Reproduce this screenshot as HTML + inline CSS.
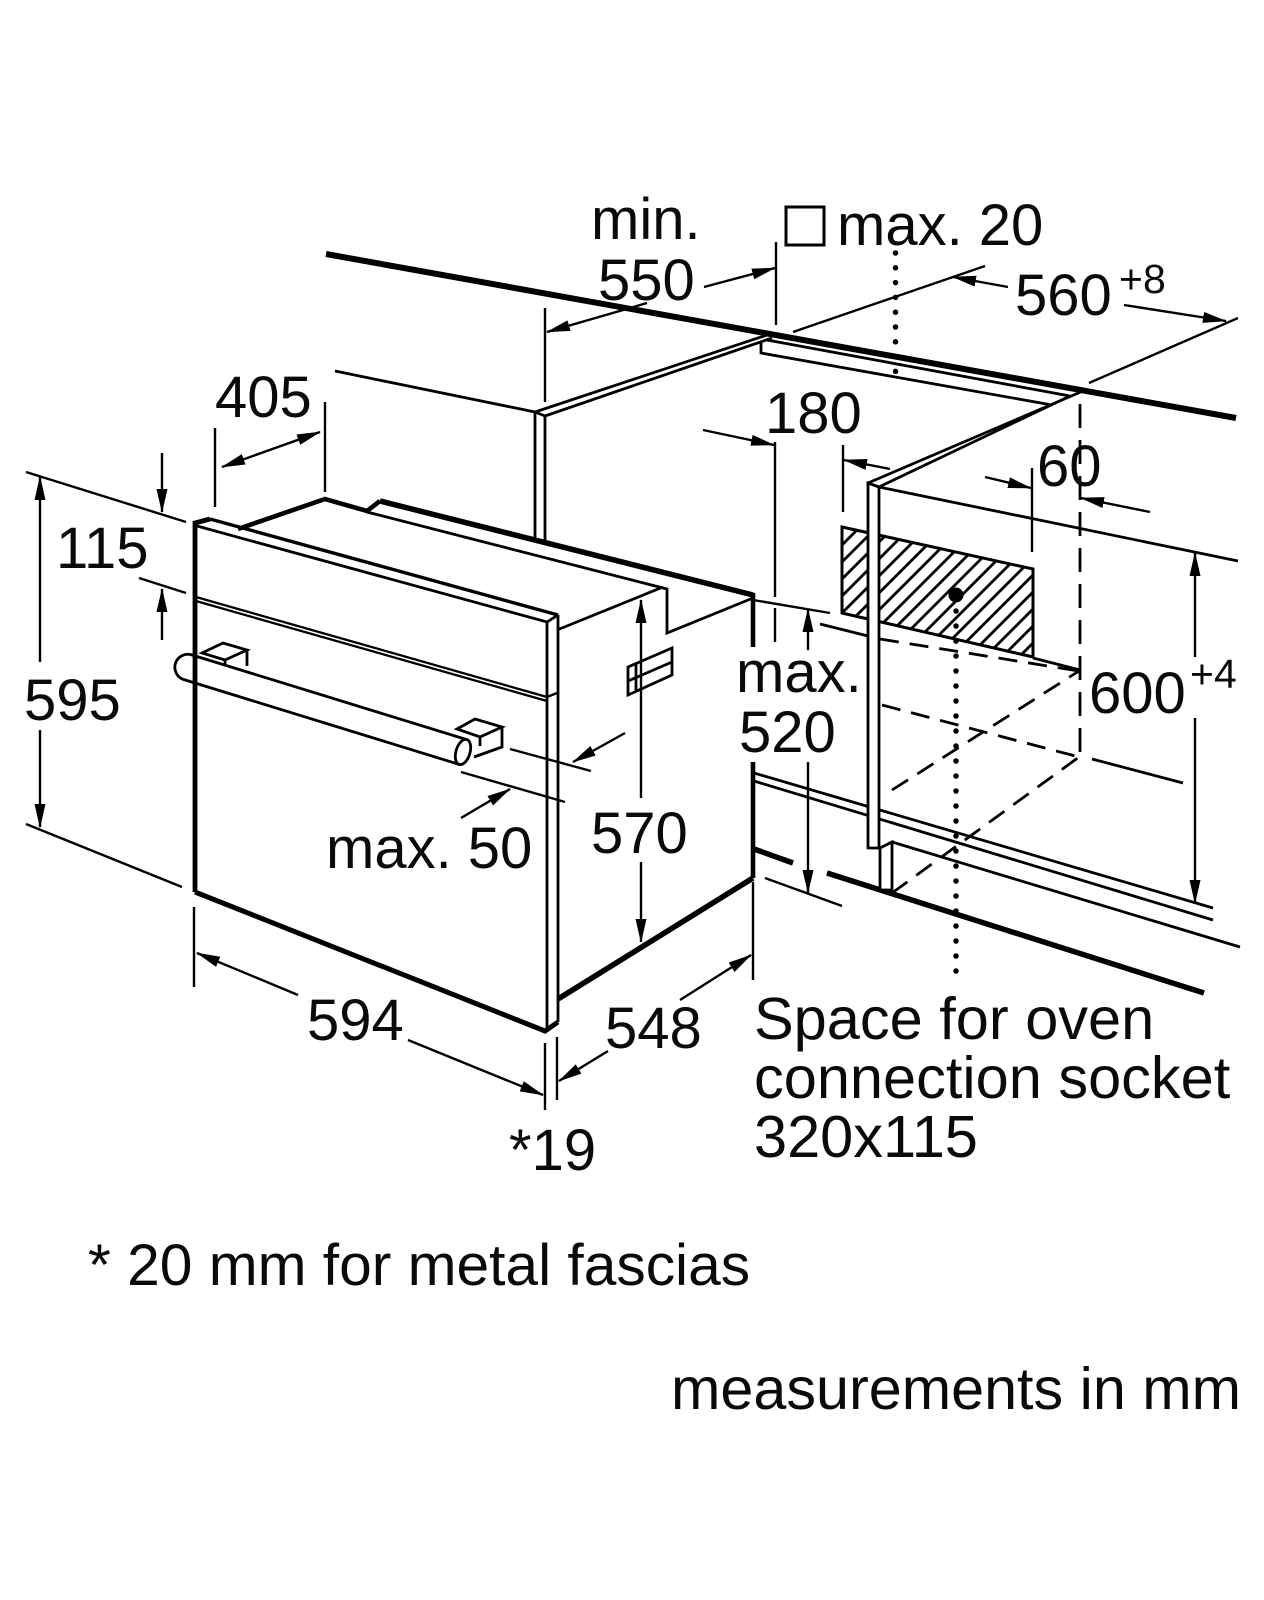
<!DOCTYPE html>
<html><head><meta charset="utf-8"><style>
html,body{margin:0;padding:0;background:#fff;}
svg{display:block;}
text{font-family:"Liberation Sans",Arial,sans-serif;fill:#0a0a0a;}
</style></head><body>
<svg width="1264" height="1600" viewBox="0 0 1264 1600" xmlns="http://www.w3.org/2000/svg">
<defs>
<marker id="ah" viewBox="0 0 24 11" refX="23" refY="5.5" markerWidth="24" markerHeight="11" markerUnits="userSpaceOnUse" orient="auto-start-reverse"><path d="M0,0L24,5.5L0,11z" fill="#000"/></marker>
<clipPath id="hc"><polygon points="842,527 1033,569 1033,657 842,613"/></clipPath>
</defs>
<rect width="1264" height="1600" fill="#fff"/>

<g stroke="#000" fill="none" stroke-width="2.8">
<!-- worktop -->
<line x1="326" y1="254" x2="1236" y2="418" stroke-width="6"/>
<!-- cabinet -->
<line x1="335" y1="371" x2="535" y2="412"/>
<path d="M535,412 L535,540 M545,416 L545,540 M535,412 L545,416 M535,412 L767,335 M545,416 L772,338"/>
<path d="M767,340 L1070,396 M761,343 L761,353 L1052,405"/>
<path d="M1083,391 L868,483 M1070,396 L879,487"/>
<line x1="879" y1="487" x2="1238" y2="561"/>
<path d="M754,773 L1213,908 M754,781 L1213,920 M892,842 L1240,947"/>
<path d="M754,849 L793,863 M827,873 L1204,993" stroke-width="5.5"/>

<!-- dashed box -->
<g stroke-dasharray="19 11">
<path d="M880,639 L1079,671"/>
<path d="M882,705 L1079,757"/>
<path d="M892,790 L1079,671"/>
<path d="M892,893 L1079,757"/>
</g>
<path d="M1080,404 L1080,757" stroke-dasharray="24 12"/>
<path d="M820,624 L868,636 M1092,759 L1183,783 M1033,658 L1080,670"/>

<!-- hatched socket area -->
<g clip-path="url(#hc)">
<path d="M690,680L860,510M707,680L877,510M724,680L894,510M741,680L911,510M758,680L928,510M775,680L945,510M792,680L962,510M809,680L979,510M826,680L996,510M843,680L1013,510M860,680L1030,510M877,680L1047,510M894,680L1064,510M911,680L1081,510M928,680L1098,510M945,680L1115,510M962,680L1132,510M979,680L1149,510M996,680L1166,510M1013,680L1183,510"/>
</g>
<polygon points="842,527 1033,569 1033,657 842,613" stroke-width="3"/>

<!-- side panel -->
<polygon points="868,483 879,487 879,848 868,848" fill="#fff"/>
<polygon points="880,848 892,842 892,890 880,890" fill="#fff"/>

<!-- oven front -->
<path d="M195,892 L195,523 L210,519" stroke-width="4.8"/>
<path d="M195,892 L545,1031 L558,1022" stroke-width="5"/>
<path d="M210,519 L558,615" stroke-width="3.4"/>
<path d="M197,526 L547,622 L558,615 M547,622 L547,1031 M558,615 L558,1022"/>
<path d="M196,597 L547,697 L557,693 M196,601 L547,701" stroke-width="2.3"/>
<!-- oven top/body -->
<path d="M238,529 L325,499 L367,511 L380,501" stroke-width="4.6"/>
<path d="M380,501 L753,595" stroke-width="5.5"/>
<path d="M367,512 L667,589 L667,633 L753,598 M557,630 L663,587"/>
<path d="M753,593 L753,647 M753,762 L753,878" stroke-width="4.6"/>
<path d="M558,999 L753,878" stroke-width="5.5"/>
<!-- vent -->
<polygon points="628,667 672,648 672,675 628,695"/>
<path d="M628,681 L672,662 M636,664 L636,691"/>

<!-- handle -->
<path d="M190.8,654.6 L466.8,739.6 M183.2,679.4 L459.2,764.4 M190.8,654.6 A13,13 0 0 0 183.2,679.4"/>
<path d="M202,653 L223,643 L247,650 L225,660 Z M247,650 L247,666 M225,660 L225,666" fill="#fff"/>
<path d="M457,729 L475,719 L502,727 L480,737 Z M502,727 L502,747 L474,757 M480,737 L480,746" fill="#fff"/>
<ellipse cx="463" cy="752" rx="7" ry="13" transform="rotate(17 463 752)" fill="#fff"/>

<!-- dimension lines -->
<g stroke-width="2.4">
<!-- 405 -->
<path d="M215,428 L215,507 M325,402 L325,492"/>
<line x1="222" y1="467" x2="320" y2="432" marker-start="url(#ah)" marker-end="url(#ah)"/>
<!-- 115 -->
<line x1="162" y1="453" x2="162" y2="512" marker-end="url(#ah)"/>
<line x1="139" y1="578" x2="186" y2="593"/>
<line x1="162" y1="640" x2="162" y2="589" marker-end="url(#ah)"/>
<!-- 595 -->
<line x1="26" y1="472" x2="186" y2="522"/>
<line x1="40" y1="662" x2="40" y2="477" marker-end="url(#ah)"/>
<line x1="40" y1="730" x2="40" y2="827" marker-end="url(#ah)"/>
<line x1="26" y1="824" x2="182" y2="887"/>
<!-- 594 -->
<line x1="194" y1="907" x2="194" y2="987"/>
<line x1="298" y1="995" x2="197" y2="953" marker-end="url(#ah)"/>
<line x1="408" y1="1040" x2="543" y2="1095" marker-end="url(#ah)"/>
<line x1="545" y1="1043" x2="545" y2="1110"/>
<!-- 548 / 19 -->
<line x1="557" y1="1037" x2="557" y2="1100"/>
<line x1="608" y1="1051" x2="559" y2="1081" marker-end="url(#ah)"/>
<line x1="680" y1="1000" x2="751" y2="955" marker-end="url(#ah)"/>
<line x1="753" y1="882" x2="753" y2="980"/>
<!-- max 50 -->
<line x1="510" y1="749" x2="591" y2="771"/>
<line x1="461" y1="772" x2="565" y2="802"/>
<line x1="625" y1="733" x2="573" y2="762" marker-end="url(#ah)"/>
<line x1="461" y1="818" x2="510" y2="789" marker-end="url(#ah)"/>
<!-- 570 -->
<line x1="641" y1="798" x2="641" y2="600" marker-end="url(#ah)"/>
<line x1="641" y1="862" x2="641" y2="942" marker-end="url(#ah)"/>
<!-- 550 -->
<line x1="545" y1="308" x2="545" y2="402"/>
<line x1="776" y1="242" x2="776" y2="325"/>
<line x1="647" y1="303" x2="547" y2="332" marker-end="url(#ah)"/>
<line x1="704" y1="287" x2="775" y2="268" marker-end="url(#ah)"/>
<!-- max 20 square -->
<rect x="786" y="207" width="38" height="38" stroke-width="3"/>
<!-- 560 -->
<line x1="793" y1="332" x2="985" y2="266"/>
<line x1="1089" y1="383" x2="1238" y2="318"/>
<line x1="1008" y1="287" x2="953" y2="277" marker-end="url(#ah)"/>
<line x1="1124" y1="305" x2="1226" y2="321" marker-end="url(#ah)"/>
<!-- 180 -->
<path d="M775,442 L775,597 M775,608 L775,642"/>
<line x1="703" y1="430" x2="774" y2="445" marker-end="url(#ah)"/>
<line x1="843" y1="445" x2="843" y2="512"/>
<line x1="890" y1="469" x2="844" y2="460" marker-end="url(#ah)"/>
<!-- 60 -->
<line x1="1032" y1="468" x2="1032" y2="552"/>
<line x1="985" y1="477" x2="1031" y2="488" marker-end="url(#ah)"/>
<line x1="1150" y1="512" x2="1081" y2="498" marker-end="url(#ah)"/>
<!-- 600 -->
<line x1="1195" y1="657" x2="1195" y2="553" marker-end="url(#ah)"/>
<line x1="1195" y1="718" x2="1195" y2="903" marker-end="url(#ah)"/>
<!-- max 520 -->
<line x1="753" y1="600" x2="830" y2="613"/>
<line x1="808" y1="650" x2="808" y2="609" marker-end="url(#ah)"/>
<line x1="808" y1="762" x2="808" y2="893" marker-end="url(#ah)"/>
<line x1="765" y1="878" x2="842" y2="906"/>
</g>

<!-- dotted lines -->
<line x1="895.5" y1="253" x2="895.5" y2="372" stroke-width="5.5" stroke-linecap="round" stroke-dasharray="0 14.8"/>
<line x1="956" y1="611" x2="956" y2="972" stroke-width="5.5" stroke-linecap="round" stroke-dasharray="0 15"/>
</g>
<circle cx="956" cy="595" r="7.5" fill="#000"/>

<!-- labels -->
<g font-size="58">
<text x="591" y="239">min.</text>
<text x="598" y="300">550</text>
<text x="837" y="245">max. 20</text>
<text x="1015" y="315">560</text>
<text x="1119" y="293" font-size="41">+8</text>
<text x="215" y="417">405</text>
<text x="765" y="433">180</text>
<text x="1037" y="486">60</text>
<text x="56" y="568">115</text>
<text x="24" y="720">595</text>
<text x="1089" y="713">600</text>
<text x="1190" y="688" font-size="41">+4</text>
<text x="736" y="692">max.</text>
<text x="739" y="752">520</text>
<text x="591" y="853">570</text>
<text x="326" y="868">max. 50</text>
<text x="307" y="1040">594</text>
<text x="605" y="1048">548</text>
<text x="509" y="1170">*19</text>
</g>
<g font-size="59.5">
<text x="754" y="1039">Space for oven</text>
<text x="754" y="1098">connection socket</text>
<text x="754" y="1157">320x115</text>
</g>
<text x="88" y="1285" font-size="58.7">* 20 mm for metal fascias</text>
<text x="671" y="1409" font-size="59.3">measurements in mm</text>
</svg>
</body></html>
